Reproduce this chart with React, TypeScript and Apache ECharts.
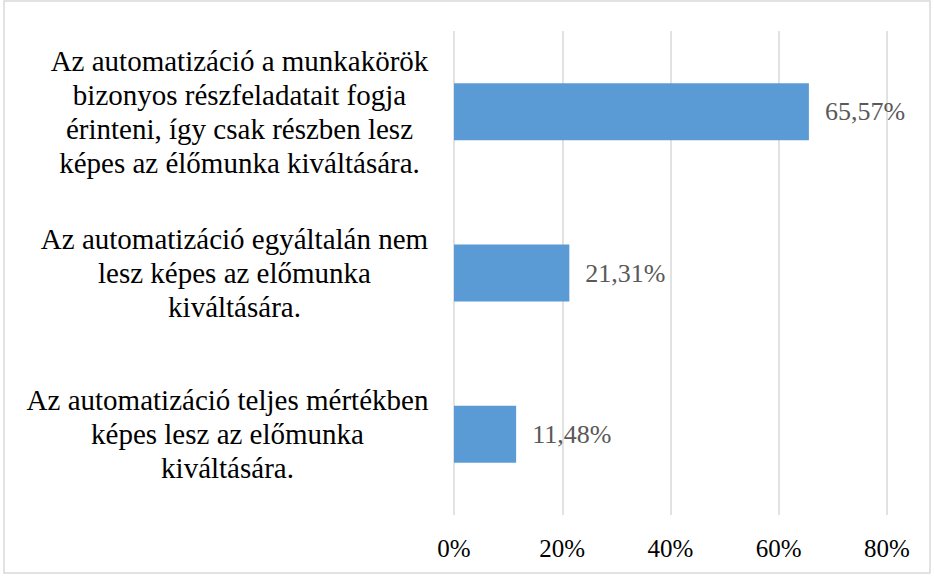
import React, { useEffect, useRef } from "react";
import * as echarts from "echarts";

const categories = [
  "Az automatizáció teljes mértékben\nképes lesz az előmunka\nkiváltására.",
  "Az automatizáció egyáltalán nem\nlesz képes az előmunka\nkiváltására.",
  "Az automatizáció a munkakörök\nbizonyos részfeladatait fogja\nérinteni, így csak részben lesz\nképes az élőmunka kiváltására.",
];
const values = [11.48, 21.31, 65.57];
const xTicks = { min: 0, max: 80, interval: 20 };

export default function App() {
  const ref = useRef<HTMLDivElement>(null);
  useEffect(() => {
    document.body.style.margin = "0";
    const chart = echarts.init(ref.current!, null, { renderer: "svg" });
    const font = "Liberation Serif";
    const labelSize = 29;
    const canvas = document.createElement("canvas");
    const ctx = canvas.getContext("2d")!;
    ctx.font = `${labelSize}px "${font}"`;
    const rich: Record<string, any> = {};
    categories.forEach((c, i) => {
      const w = Math.max(...c.split("\n").map((l) => ctx.measureText(l).width));
      rich[`b${i}`] = {
        width: Math.ceil(w) + 1,
        align: "center",
        fontFamily: font,
        fontSize: labelSize,
        lineHeight: 34,
        color: "#000000",
      };
    });
    chart.setOption({
      animation: false,
      backgroundColor: "#ffffff",
      textStyle: { fontFamily: font },
      graphic: [
        {
          type: "rect",
          shape: { x: 4, y: 1, width: 926, height: 572 },
          style: { fill: "none", stroke: "#d9d9d9", lineWidth: 1.5 },
          silent: true,
        },
      ],
      grid: { left: 454, right: 47, top: 31, bottom: 61, containLabel: false },
      xAxis: {
        type: "value",
        min: xTicks.min,
        max: xTicks.max,
        interval: xTicks.interval,
        axisLine: { show: false },
        axisTick: { show: false },
        splitLine: { show: true, lineStyle: { color: "#d9d9d9", width: 1.5 } },
        axisLabel: {
          formatter: (v: number) => `${v}%`,
          color: "#000000",
          fontFamily: font,
          fontSize: 25,
          margin: 21,
        },
      },
      yAxis: {
        type: "category",
        data: categories,
        axisLine: { show: false },
        axisTick: { show: false },
        axisLabel: {
          color: "#000000",
          fontFamily: font,
          fontSize: labelSize,
          lineHeight: 34,
          align: "right",
          margin: 25,
          formatter: (v: string, i: number) =>
            v
              .split("\n")
              .map((l) => `{b${i}|${l}}`)
              .join("\n"),
          rich,
        },
      },
      series: [
        {
          type: "bar",
          data: values,
          barWidth: 57,
          itemStyle: { color: "#5b9bd5" },
          label: {
            show: true,
            position: "right",
            distance: 16,
            color: "#595959",
            fontFamily: font,
            fontSize: 26,
            formatter: (p: any) => `${p.value.toFixed(2).replace(".", ",")}%`,
          },
        },
      ],
    });
    return () => chart.dispose();
  }, []);
  return (
    <div
      ref={ref}
      style={{ position: "absolute", left: 0, top: 0, width: 934, height: 576 }}
    />
  );
}
